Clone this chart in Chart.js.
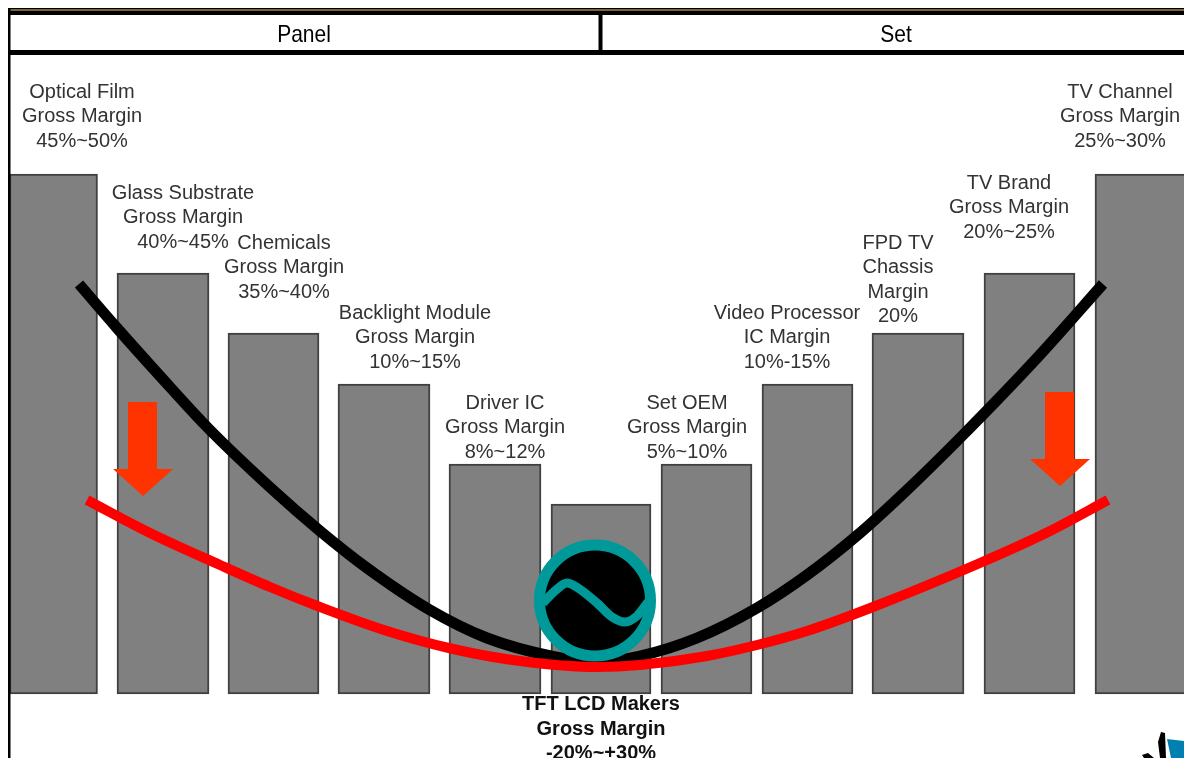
<!DOCTYPE html>
<html>
<head>
<meta charset="utf-8">
<title>TFT LCD supply chain gross margin</title>
<script src="https://cdn.jsdelivr.net/npm/chart.js@4"></script>
<style>
  html, body { margin: 0; padding: 0; background: #fff; overflow: hidden; }
  #wrap { width: 1184px; height: 758px; }
</style>
</head>
<body>
<div id="wrap"><canvas id="grafico" width="1184" height="758"></canvas></div>
<script>
// Bars of the margin "smile", left to right (height above the baseline)
const barCenters = [53.5, 163, 273.5, 384, 495, 601, 706.5, 807.5, 918, 1029.5, 1141];
const barWidths = [88, 92, 91, 92, 92, 100, 91, 91, 92, 91, 92];
const barHeights = [520, 421, 361, 310, 230, 190, 230, 310, 361, 421, 520];

// Upper (black) and lower (red) margin curves
const blackX = [79, 117, 160, 208, 273, 320, 367, 430, 487, 553, 595, 640, 697, 757, 807, 860, 907, 960, 1037, 1103];
const blackY = [410, 366, 318, 266, 204, 163, 126, 84, 56, 37.5, 32, 38, 56, 86, 119, 161, 204, 256, 336, 410];
const redX = [87, 150, 220, 270, 320, 387, 453, 520, 597, 640, 707, 757, 807, 873, 980, 1048, 1108];
const redY = [194, 161, 129, 107, 87, 63, 45, 33, 27, 29, 38, 49, 63, 87, 131, 162, 194];

// Logo: ring and the wave through it
const logoX = [595];
const logoY = [93.5];
const waveX = [543, 556, 567, 578, 597, 612, 625, 637, 648];
const waveY = [91, 104, 111, 106, 91, 77, 72, 78, 92];

// Labels above the bars: centre x, first line y, text lines
const labelX = [82, 183, 284, 415, 505, 687, 787, 898, 1009, 1120];
const labelY = [596, 495, 445, 375, 285, 285, 375, 445, 505, 596];
const labelLines = [
  ["Optical Film", "Gross Margin", "45%~50%"],
  ["Glass Substrate", "Gross Margin", "40%~45%"],
  ["Chemicals", "Gross Margin", "35%~40%"],
  ["Backlight Module", "Gross Margin", "10%~15%"],
  ["Driver IC", "Gross Margin", "8%~12%"],
  ["Set OEM", "Gross Margin", "5%~10%"],
  ["Video Processor", "IC Margin", "10%-15%"],
  ["FPD TV", "Chassis", "Margin", "20%"],
  ["TV Brand", "Gross Margin", "20%~25%"],
  ["TV Channel", "Gross Margin", "25%~30%"]
];
const centerLines = ["TFT LCD Makers", "Gross Margin", "-20%~+30%"];
const headers = ["Panel", "Set"];

// Arrows pointing down to the lower curve
const arrowX = [143, 1060];
const arrowTop = [292, 302];
const arrowTip = [198, 208];

const fonte = '"Liberation Sans", Arial, sans-serif';

const desenhos = {
  id: 'desenhos',
  afterDatasetsDraw(chart) {
    const ctx = chart.ctx;
    const x = chart.scales.x;
    const y = chart.scales.y;
    ctx.save();

    // setas
    ctx.fillStyle = '#ff3300';
    arrowX.forEach((ax, i) => {
      const px = x.getPixelForValue(ax);
      const topo = y.getPixelForValue(arrowTop[i]);
      const ponta = y.getPixelForValue(arrowTip[i]);
      ctx.beginPath();
      ctx.moveTo(px - 15, topo);
      ctx.lineTo(px + 14, topo);
      ctx.lineTo(px + 14, ponta - 27);
      ctx.lineTo(px + 30, ponta - 27);
      ctx.lineTo(px, ponta);
      ctx.lineTo(px - 30, ponta - 27);
      ctx.lineTo(px - 15, ponta - 27);
      ctx.closePath();
      ctx.fill();
    });

    // cabecalho
    ctx.fillStyle = '#000';
    ctx.fillRect(8, 8, 1176, 7);
    ctx.fillStyle = '#7a6530';
    ctx.fillRect(10, 9, 1174, 2);
    ctx.fillStyle = '#000';
    ctx.fillRect(8, 8, 2.5, 750);
    ctx.fillRect(8, 50, 1176, 5);
    ctx.fillRect(598.5, 14, 4, 37);

    ctx.textAlign = 'center';
    ctx.textBaseline = 'alphabetic';
    ctx.font = '24px ' + fonte;
    headers.forEach((t, i) => {
      ctx.save();
      ctx.translate(i === 0 ? 304 : 896, 42);
      ctx.scale(0.875, 1);
      ctx.fillText(t, 0, 0);
      ctx.restore();
    });

    // rotulos das barras
    ctx.fillStyle = '#333';
    ctx.font = '20px ' + fonte;
    labelLines.forEach((linhas, i) => {
      linhas.forEach((t, j) => {
        ctx.fillText(t, x.getPixelForValue(labelX[i]), y.getPixelForValue(labelY[i]) + j * 24.4);
      });
    });

    ctx.fillStyle = '#111';
    ctx.font = 'bold 20px ' + fonte;
    centerLines.forEach((t, j) => {
      ctx.fillText(t, 601, 710 + j * 24.5);
    });

    // pedaco do logotipo no canto
    ctx.fillStyle = '#0080b0';
    ctx.beginPath();
    ctx.moveTo(1167, 739);
    ctx.lineTo(1184, 741);
    ctx.lineTo(1184, 758);
    ctx.lineTo(1171, 758);
    ctx.closePath();
    ctx.fill();
    ctx.fillStyle = '#000';
    ctx.beginPath();
    ctx.moveTo(1161, 732);
    ctx.lineTo(1165, 733);
    ctx.lineTo(1166, 758);
    ctx.lineTo(1160, 758);
    ctx.lineTo(1158, 742);
    ctx.closePath();
    ctx.moveTo(1142, 755);
    ctx.lineTo(1148, 753);
    ctx.lineTo(1154, 758);
    ctx.lineTo(1144, 758);
    ctx.closePath();
    ctx.fill();
    ctx.restore();
  }
};

const barDatasets = barCenters.map((c, i) => ({
  type: 'bar',
  data: [{x: c, y: barHeights[i]}],
  barThickness: barWidths[i],
  grouped: false,
  backgroundColor: '#808080',
  borderColor: '#404040',
  borderWidth: 2,
  borderSkipped: false,
  order: 5
}));

new Chart(document.getElementById('grafico').getContext('2d'), {
  data: {
    datasets: [
      ...barDatasets,
      {
        type: 'line',
        data: blackX.map((v, i) => ({x: v, y: blackY[i]})),
        borderColor: '#000',
        borderWidth: 11,
        cubicInterpolationMode: 'monotone',
        pointRadius: 0,
        borderCapStyle: 'butt',
        order: 4
      },
      {
        type: 'scatter',
        data: logoX.map((v, i) => ({x: v, y: logoY[i]})),
        backgroundColor: '#000',
        borderColor: '#009999',
        borderWidth: 11,
        pointRadius: 55.5,
        order: 3
      },
      {
        type: 'line',
        data: waveX.map((v, i) => ({x: v, y: waveY[i]})),
        borderColor: '#009999',
        borderWidth: 9,
        cubicInterpolationMode: 'monotone',
        pointRadius: 0,
        order: 2
      },
      {
        type: 'line',
        data: redX.map((v, i) => ({x: v, y: redY[i]})),
        borderColor: '#ff0000',
        borderWidth: 10,
        cubicInterpolationMode: 'monotone',
        pointRadius: 0,
        borderCapStyle: 'butt',
        order: 1
      }
    ]
  },
  options: {
    responsive: false,
    animation: false,
    layout: { padding: 0, autoPadding: false },
    plugins: { legend: { display: false }, tooltip: { enabled: false } },
    scales: {
      x: { type: 'linear', min: 0, max: 1184, display: false, offset: false },
      y: { type: 'linear', min: -64, max: 694, display: false }
    }
  },
  plugins: [desenhos]
});
</script>
</body>
</html>
